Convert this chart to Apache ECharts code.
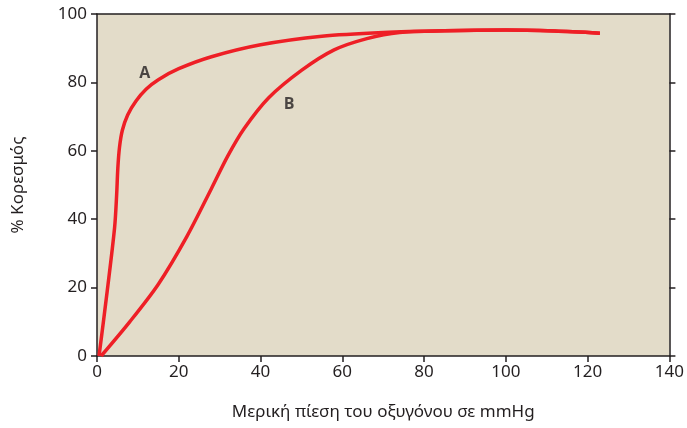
<!DOCTYPE html>
<html>
<head>
<meta charset="utf-8">
<script src="https://cdn.jsdelivr.net/npm/echarts@6/dist/echarts.min.js"></script>
<style>
  html, body { margin: 0; padding: 0; background: #fff; }
  #chart { width: 687px; height: 428px; }
</style>
</head>
<body>
<div id="chart"></div>
<script>
// καμπύλη A
var aX = [0.5, 2.5, 4.3, 4.8, 5.1, 5.5, 6.2, 7.5, 9.5, 12, 15, 20, 28, 40, 55, 70, 85, 100, 112, 123];
var aY = [0, 19, 37.5, 47, 55, 61, 66, 70.5, 74.5, 78, 80.8, 84, 87.5, 91, 93.5, 94.6, 95.1, 95.3, 95, 94.4];
// καμπύλη B
var bX = [1, 8, 15, 22, 28, 32, 36, 42, 50, 58, 66, 74, 85, 100, 112, 123];
var bY = [0, 10, 21, 35, 49, 58.5, 66.5, 75.5, 83.5, 89.5, 92.8, 94.6, 95.1, 95.3, 95, 94.4];
// ετικέτες καμπυλών
var curveNames = ["A", "B"];
var labelX = [11.7, 47];
var labelY = [82.5, 73.5];

function pairs(xs, ys) {
  return xs.map(function (x, i) { return [x, ys[i]]; });
}

var font = "'Liberation Sans Narrow', 'Noto Sans', sans-serif";
var axisColor = "#231f20";
var red = "#ee1f26";

var chart = echarts.init(document.getElementById("chart"));
chart.setOption({
  animation: false,
  grid: {
    left: 97,
    right: 15,
    top: 14,
    bottom: 72,
    show: true,
    backgroundColor: "#e3dcc9",
    borderWidth: 0
  },
  xAxis: [
    {
      type: "value",
      min: 0,
      max: 140,
      interval: 20,
      name: "Μερική πίεση του οξυγόνου σε mmHg",
      nameLocation: "middle",
      nameGap: 48,
      nameTextStyle: { fontSize: 17, color: axisColor, fontFamily: font },
      axisLine: { show: true, lineStyle: { color: axisColor, width: 1.5 } },
      axisTick: { show: true, length: 6, lineStyle: { color: axisColor, width: 1.5 } },
      axisLabel: { fontSize: 17, color: axisColor, fontFamily: font, margin: 8 },
      splitLine: { show: false }
    },
    {
      type: "value",
      position: "top",
      min: 0,
      max: 140,
      axisLine: { show: true, onZero: false, lineStyle: { color: axisColor, width: 1.5 } },
      axisTick: { show: false },
      axisLabel: { show: false },
      splitLine: { show: false }
    }
  ],
  yAxis: [
    {
      type: "value",
      min: 0,
      max: 100,
      interval: 20,
      name: "% Κορεσμός",
      nameLocation: "middle",
      nameGap: 70,
      nameTextStyle: { fontSize: 17, color: axisColor, fontFamily: font },
      axisLine: { show: true, lineStyle: { color: axisColor, width: 1.5 } },
      axisTick: { show: true, length: 6, lineStyle: { color: axisColor, width: 1.5 } },
      axisLabel: { fontSize: 17, color: axisColor, fontFamily: font, margin: 10 },
      splitLine: { show: false }
    },
    {
      type: "value",
      position: "right",
      min: 0,
      max: 100,
      interval: 20,
      axisLine: { show: true, onZero: false, lineStyle: { color: axisColor, width: 1.5 } },
      axisTick: { show: true, length: 6, lineStyle: { color: axisColor, width: 1.5 } },
      axisLabel: { show: false },
      splitLine: { show: false }
    }
  ],
  series: [
    {
      name: "A",
      type: "line",
      data: pairs(aX, aY),
      smooth: 0.3,
      showSymbol: false,
      lineStyle: { color: red, width: 3.5 }
    },
    {
      name: "B",
      type: "line",
      data: pairs(bX, bY),
      smooth: 0.3,
      showSymbol: false,
      lineStyle: { color: red, width: 3.5 }
    },
    {
      name: "labels",
      type: "scatter",
      symbolSize: 0,
      data: curveNames.map(function (n, i) {
        return { name: n, value: [labelX[i], labelY[i]] };
      }),
      label: {
        show: true,
        position: "inside",
        formatter: "{b}",
        fontSize: 16,
        fontWeight: "bold",
        color: axisColor,
        fontFamily: "'Open Sans', 'Noto Sans', sans-serif"
      }
    }
  ]
});
</script>
</body>
</html>
